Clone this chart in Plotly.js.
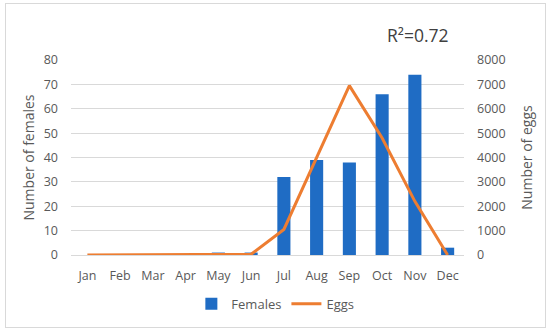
<!DOCTYPE html>
<html>
<head>
<meta charset="utf-8">
<script src="https://cdn.plot.ly/plotly-3.0.1.min.js"></script>
<style>
  html, body { margin: 0; padding: 0; background: #fff; }
  #wrap { position: relative; width: 550px; height: 331px; }
  #chart { width: 550px; height: 331px; }
  #frame { position: absolute; left: 5px; top: 3px; width: 539px; height: 323px; border: 1px solid #D9D9D9; pointer-events: none; }
</style>
</head>
<body>
<div id="wrap">
  <div id="chart"></div>
  <div id="frame"></div>
</div>
<script>
const months = ["Jan", "Feb", "Mar", "Apr", "May", "Jun", "Jul", "Aug", "Sep", "Oct", "Nov", "Dec"];
const females = [0, 0, 0, 0, 1, 1, 32, 39, 38, 66, 74, 3];
const eggs = [0, 0, 0, 0, 0, 30, 1050, 4000, 6950, 4800, 2200, 0];
const femalesTicks = [0, 10, 20, 30, 40, 50, 60, 70, 80];
const eggsTicks = [0, 1000, 2000, 3000, 4000, 5000, 6000, 7000, 8000];

const FONT = "Open Sans, Liberation Sans, sans-serif";
const GREY = "#595959";

const traces = [
  {
    type: "bar",
    name: "Females",
    x: months,
    y: females,
    marker: { color: "#1F6CC4" },
    yaxis: "y"
  },
  {
    type: "scatter",
    mode: "lines",
    name: "Eggs",
    x: months,
    y: eggs,
    line: { color: "#ED7D31", width: 3 },
    yaxis: "y2"
  }
];

const layout = {
  width: 550,
  height: 331,
  margin: { l: 71, r: 86, t: 60, b: 74 },
  paper_bgcolor: "#fff",
  plot_bgcolor: "#fff",
  font: { family: FONT, size: 12.5, color: GREY },
  bargap: 0.6,
  showlegend: true,
  legend: {
    orientation: "h",
    x: 0.52, xanchor: "center",
    y: -0.25, yanchor: "middle",
    font: { family: FONT, size: 13, color: GREY },
    traceorder: "normal"
  },
  xaxis: {
    type: "category",
    tickvals: months,
    ticktext: months,
    showgrid: false,
    showline: false,
    zeroline: false,
    ticks: "",
    ticklabelstandoff: 11,
    tickfont: { family: FONT, size: 12.5, color: GREY }
  },
  yaxis: {
    range: [0, 80],
    tickvals: femalesTicks,
    showgrid: true,
    gridcolor: "#D9D9D9",
    gridwidth: 1,
    zeroline: true,
    zerolinecolor: "#D9D9D9",
    zerolinewidth: 1,
    showline: false,
    ticks: "",
    ticklabelstandoff: 12,
    tickfont: { family: FONT, size: 12.5, color: GREY },
    title: { text: "Number of females", font: { family: FONT, size: 14, color: GREY }, standoff: 5 }
  },
  yaxis2: {
    range: [0, 8000],
    tickvals: eggsTicks,
    overlaying: "y",
    side: "right",
    showgrid: false,
    zeroline: false,
    showline: false,
    ticks: "",
    ticklabelstandoff: 12,
    tickfont: { family: FONT, size: 12.5, color: GREY },
    title: { text: "Number of eggs", font: { family: FONT, size: 14, color: GREY }, standoff: 17 }
  },
  annotations: [
    {
      text: "R²=0.72",
      xref: "paper", yref: "paper",
      x: 0.884, y: 1.13,
      xanchor: "center", yanchor: "middle",
      showarrow: false,
      font: { family: FONT, size: 17.5, color: "#404040" }
    }
  ]
};

Plotly.newPlot("chart", traces, layout, { displayModeBar: false, staticPlot: true });
</script>
</body>
</html>
